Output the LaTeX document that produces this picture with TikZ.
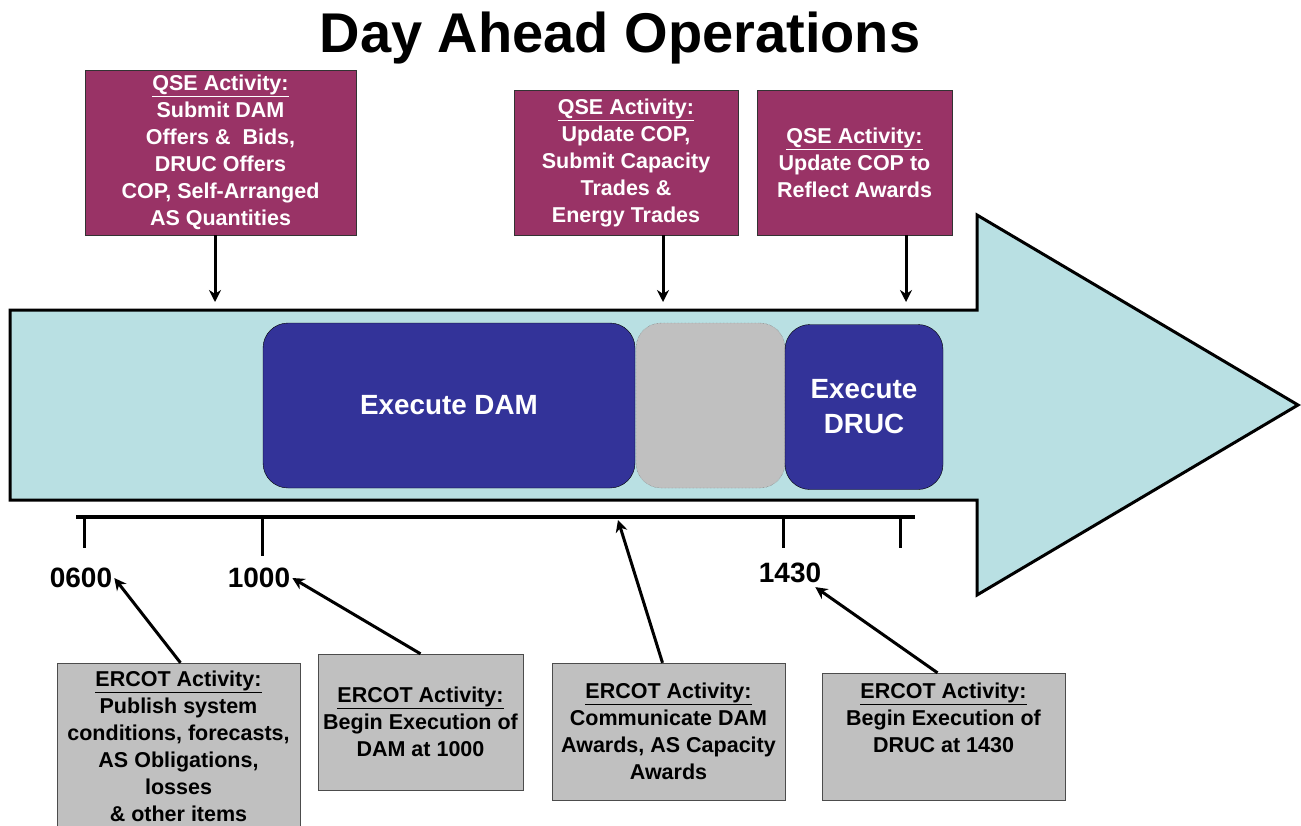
\documentclass[tikz,border=0pt]{standalone}
\usepackage{fontspec}
\setmainfont{Liberation Sans}
\usepackage{xcolor}
\usetikzlibrary{arrows.meta,positioning,calc}

\definecolor{qsepurple}{RGB}{153,51,102}
\definecolor{ercotgray}{RGB}{192,192,192}
\definecolor{flowblue}{RGB}{185,224,227}
\definecolor{execnavy}{RGB}{51,51,153}

\tikzset{
    qsebox/.style={draw=black!80, fill=qsepurple, text=white, align=center, inner sep=0pt,
        font=\bfseries\fontsize{21.5}{27}\selectfont},
    ercotbox/.style={draw=black!70, fill=ercotgray, align=center, inner sep=0pt,
        font=\bfseries\fontsize{21.5}{27}\selectfont},
    execbox/.style={draw=black, fill=execnavy, text=white, rounded corners=25pt, align=center,
        minimum height=165pt, font=\bfseries\fontsize{27.8}{35}\selectfont},
    gapbox/.style={draw=black!60, densely dotted, fill=ercotgray, rounded corners=25pt,
        minimum height=165pt},
    timelbl/.style={font=\bfseries\fontsize{28}{30}\selectfont, inner sep=2pt},
    pointer/.style={line width=3pt, -{Stealth[length=12pt,width=12pt]}}
}

\begin{document}
\begin{tikzpicture}[x=1pt, y=-1pt]
        \useasboundingbox (0,0) rectangle (1301,825);

        %%title
        \node[font=\bfseries\fontsize{56}{60}\selectfont] (title) at (620,38) {Day Ahead Operations};

        %%big arrow
        \draw[line width=3pt, fill=flowblue] (10,310) -- (977,310) -- (977,215) -- (1298,405)
            -- (977,595) -- (977,500) -- (10,500) -- cycle;

        %%executions
        \node[execbox, minimum width=372pt] (dam) at (449,405.5) {Execute DAM};
        \node[gapbox, minimum width=149pt] (gap) at (710.5,405.5) {};
        \node[execbox, minimum width=158pt] (druc) at (864,407) {Execute\\DRUC};

        %%timeline
        \draw[line width=4pt] (76,517) -- (915,517);
            \draw[line width=3pt] (84,517) -- (84,548);
            \draw[line width=3pt] (262,517) -- (262,556);
            \draw[line width=3pt] (783,517) -- (783,548);
            \draw[line width=3pt] (900,517) -- (900,548);
        \node[timelbl] (l0600) at (81,578) {0600};
        \node[timelbl] (l1000) at (259,578) {1000};
        \node[timelbl] (l1430) at (790,573) {1430};
        \coordinate (tcomm) at (618,520);

        %%QSE
        \node[qsebox, minimum width=271pt, minimum height=165pt] (q1) at (220.5,152.5)
            {\underline{QSE Activity:}\\Submit DAM\\Offers \& \ Bids,\\DRUC Offers\\COP, Self-Arranged\\AS Quantities};
        \node[qsebox, minimum width=224pt, minimum height=145pt] (q2) at (626,162.5)
            {\underline{QSE Activity:}\\Update COP,\\Submit Capacity\\Trades \&\\Energy Trades};
        \node[qsebox, minimum width=195pt, minimum height=145pt] (q3) at (854.5,162.5)
            {\underline{QSE Activity:}\\Update COP to\\Reflect Awards};
        \coordinate (a1) at (215,302);
        \coordinate (a2) at (663,302);
        \coordinate (a3) at (906,302);
            \draw[pointer] (a1 |- q1.south) -- (a1);
            \draw[pointer] (a2 |- q2.south) -- (a2);
            \draw[pointer] (a3 |- q3.south) -- (a3);

        %%ERCOT
        \node[ercotbox, minimum width=243pt, minimum height=167pt] (e1) at (178.5,746.5)
            {\underline{ERCOT Activity:}\\Publish system\\conditions, forecasts,\\AS Obligations,\\losses\\\& other items};
        \node[ercotbox, minimum width=205pt, minimum height=136pt] (e2) at (420.5,722)
            {\underline{ERCOT Activity:}\\Begin Execution of\\DAM at 1000};
        \node[ercotbox, minimum width=233pt, minimum height=137pt] (e3) at (668.5,731.5)
            {\underline{ERCOT Activity:}\\Communicate DAM\\Awards, AS Capacity\\Awards};
        \node[ercotbox, minimum width=243pt, minimum height=127pt] (e4) at (943.5,736.5)
            {\parbox[c][127pt][t]{243pt}{\centering\vspace*{10pt}\underline{ERCOT Activity:}\\Begin Execution of\\DRUC at 1430}};
            \draw[pointer] ($(e1.north)+(2,0)$) -- (l0600.east);
            \draw[pointer] (e2.north) -- (l1000.east);
            \draw[pointer] ($(e3.north)+(-6,0)$) -- (tcomm);
            \draw[pointer] ($(e4.north)+(-6,0)$) -- ($(l1430.south east)+(-8,2)$);
\end{tikzpicture}
\end{document}
